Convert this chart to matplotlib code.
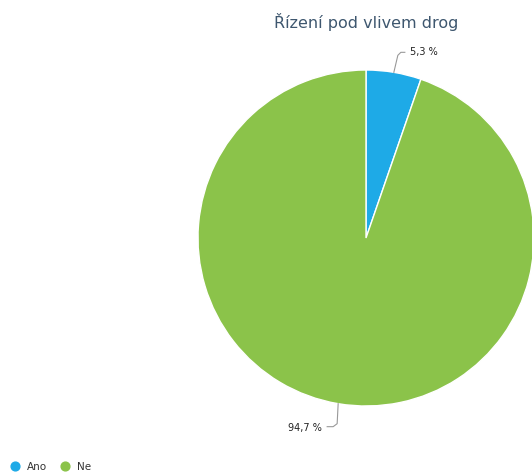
import numpy as np
import matplotlib
matplotlib.use("Agg")
import matplotlib.pyplot as plt

title = "Řízení pod vlivem drog"
labels = ["Ano", "Ne"]
values = [5.3, 94.7]
value_texts = ["5,3 %", "94,7 %"]
colors = ["#1eaae7", "#8bc34a"]

W, H = 532, 472
fig = plt.figure(figsize=(W / 100, H / 100), dpi=100)
ax = fig.add_axes([0, 0, 1, 1])

cx, cy, r = 366, 234, 168
ax.pie(values, colors=colors, startangle=90, counterclock=False,
       center=(cx, cy), radius=r, frame=True,
       wedgeprops=dict(edgecolor="white", linewidth=1))
ax.set_xlim(0, W)
ax.set_ylim(0, H)
ax.set_aspect("equal")
ax.axis("off")

# leader lines + labels
start = 0.0
total = sum(values)
for i, v in enumerate(values):
    mid = start + v / total * 360 / 2
    start += v / total * 360
    a = np.deg2rad(mid)
    x0, y0 = cx + r * np.sin(a), cy + r * np.cos(a)
    if np.cos(a) > 0:
        xs = [x0, x0 + 4, x0 + 7, x0 + 11]
        ys = [y0, y0 + 17, y0 + 20, y0 + 20]
        ax.plot(xs, ys, color="#999999", lw=0.8)
        ax.text(xs[-1] + 5, ys[-1], value_texts[i], fontsize=7,
                ha="left", va="center", color="#222222")
    else:
        xs = [x0, x0 - 1, x0 - 5, x0 - 11]
        ys = [y0, y0 - 20, y0 - 23, y0 - 23]
        ax.plot(xs, ys, color="#999999", lw=0.8)
        ax.text(xs[-1] - 5, ys[-1] - 1, value_texts[i], fontsize=7,
                ha="right", va="center", color="#222222")

fig.text(366 / W, 1 - 22 / H, title, fontsize=11.5, ha="center", va="center",
         color="#3e576f")

# legend
lx = [15, 65]
for i, lab in enumerate(labels):
    ax.scatter([lx[i]], [H - 466], s=40, color=colors[i], zorder=5)
    ax.text(lx[i] + 12, H - 467, lab, fontsize=7.5, ha="left", va="center",
            color="#333333")

fig.savefig("out.png", dpi=100)
